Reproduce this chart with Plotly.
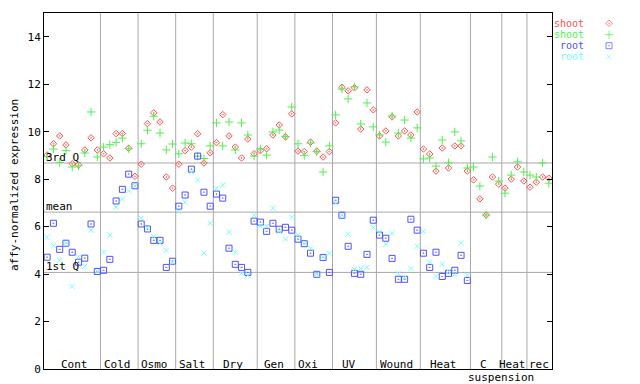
import plotly.graph_objects as go

# ---------------- data ----------------
groups = ["Cont", "Cold", "Osmo", "Salt", "Dry", "Gen", "Oxi", "UV",
          "Wound", "Heat", "C", "Heat", "rec"]
group_sizes = [9, 6, 6, 6, 7, 6, 6, 7, 7, 8, 5, 4, 4]
sub_label = "suspension"

shoot_a = [9.02, 9.49, 9.82, 9.44, 8.65, 8.60, 9.23, 9.74, 9.23,
           9.07, 8.89, 9.92, 9.92, 9.30, 8.12,
           8.63, 10.34, 10.79, 10.41, 8.09, 7.62,
           8.63, 9.20, 9.35, 9.91, 8.68, 9.11,
           9.54, 10.72, 9.82, 9.35, 8.89, 9.69, 9.07,
           9.20, 9.28, 9.86, 10.28, 9.78, 10.75,
           9.18, 9.16, 9.56, 9.18, 8.93, 9.16,
           10.37, 11.87, 11.72, 11.85, 10.11, 11.76, 10.92,
           9.82, 10.03, 10.62, 9.82, 10.03, 9.86, 10.83,
           9.27, 9.06, 8.34, 9.31, 8.47, 9.40, 9.40, 8.34,
           7.97, 7.17, 6.49, 8.09, 7.79,
           7.62, 8.00, 8.51, 7.92,
           7.66, 7.87, 8.09, 8.04]

shoot_b = [8.95, 9.27, 8.70, 9.20, 8.51, 8.56, 9.10, 10.83, 8.93,
           9.35, 9.45, 9.55, 9.73, 9.28, None,
           9.49, 10.06, 10.65, 9.94, 9.23, 9.48,
           9.07, 9.52, 9.49, 8.97, 8.87, 9.40,
           10.37, 9.40, 10.41, 9.23, 10.37, 9.86, 8.97,
           9.27, 9.01, 9.99, 10.07, 9.80, 11.04,
           9.49, 9.00, 9.52, 9.16, 8.30, 9.40,
           10.71, 11.80, 11.38, 11.89, 10.32, 11.21, 10.20,
           9.86, 9.56, 10.66, 9.94, 10.49, 9.73, 10.16,
           8.85, 8.89, 8.55, 9.65, 8.68, 9.99, 9.61, 8.47,
           8.51, 7.71, 6.49, 8.93, 7.92,
           7.41, 8.17, 8.73, 8.30,
           8.17, 8.09, 8.68, 7.83]

root_a = [4.71, 6.14, 5.04, 5.30, 4.92, 4.50, 4.67, 6.11, 4.11,
          4.16, 4.62, 7.08, 7.57, 8.21, 7.72,
          6.11, 5.90, 5.42, 5.42, 4.28, 4.54,
          6.86, 7.33, 8.42, 8.97, 7.45, 6.86,
          7.37, 7.20, 5.09, 4.41, 4.28, 4.07, 6.23,
          6.19, 5.80, 6.14, 5.89, 5.97, 5.85,
          5.47, 5.28, 4.88, 3.99, 4.70, 4.07,
          7.11, 6.48, 5.17, 4.03, 3.99, 4.83, 6.27,
          5.64, 5.51, 4.66, 3.78, 3.78, 6.31, 5.85,
          4.88, 4.28, 4.92, 3.90, 4.03, 4.16, 4.79, 3.73]

root_b = [5.55, 5.21, 4.58, 5.30, 3.48, 4.73, 4.33, 5.85, 4.11,
          4.92, 5.64, 6.82, 7.17, 7.50, 7.72,
          6.36, 5.94, 5.58, 5.30, 5.00, 4.50,
          6.63, 7.03, 8.30, 7.96, 4.88, 6.14,
          7.62, 7.75, 5.76, 4.92, 4.03, 3.95, 6.48,
          6.02, 6.02, 6.78, 5.80, 5.47, 6.40,
          5.64, 5.30, 5.09, 3.99, 4.71, 4.88,
          6.99, 6.48, 5.68, 4.20, 4.24, 4.28, 5.97,
          5.78, 5.26, 5.72, 4.03, 3.86, 4.24, 5.17,
          5.80, 4.50, 3.90, 4.41, 4.11, 3.99, 5.30, 3.95]

series_names = ["shoot", "shoot", "root", "root"]
quantile_names = ["1st Q", "mean", "3rd Q"]
quantile_values = [4.07, 6.61, 8.68]

# ---------------- style ----------------
FONT = "DejaVu Sans Mono"
colors = ["#ff5050", "#50f050", "#5050ff", "#70ffff"]
symbols = ["diamond-open-dot", "cross-thin-open", "square-open-dot", "x-thin-open"]
sizes = [5, 6, 6, 5]
label_xshift = [2, -1.6, -2, -2, -2.5, -2.5, -5.5, -5, -2, -2, -3, -2, 0]
BODY = 8          # page body margin of the html page
FIG_W, FIG_H = 640 - BODY, 384 - BODY
ML, MT, MB = 44 - BODY, 13 - BODY, FIG_H - (369 - BODY)
PAPER_W = FIG_W - ML
PLOT_W = 508      # px width of the data area
PLOT_H = 356

fig = go.Figure()

all_series = [shoot_a, shoot_b, root_a, root_b]
for vals, name, c, s, sz in zip(all_series, series_names, colors, symbols, sizes):
    xs = list(range(1, len(vals) + 1))
    fig.add_trace(go.Scatter(
        x=xs, y=vals, mode="markers", name=name,
        marker=dict(symbol=s, size=sz, color=c, line=dict(color=c, width=1)),
        showlegend=False, xaxis="x", yaxis="y"))

# custom legend (text then symbol, right of the plot) in pixel-like coords
leg_rows_px = [23.3, 34.7, 45.7, 56.7]
fig.add_trace(go.Scatter(
    x=[609] * 4, y=leg_rows_px, mode="markers",
    marker=dict(symbol=symbols, size=sizes, color=colors,
                line=dict(color=colors, width=1)),
    showlegend=False, xaxis="x2", yaxis="y2", hoverinfo="skip"))

annotations = []
for name, c, py in zip(series_names, colors, leg_rows_px):
    annotations.append(dict(
        text=name, xref="paper", yref="paper",
        x=(585 - 44) / PAPER_W, y=(369 - py) / PLOT_H,
        xanchor="right", yanchor="middle", showarrow=False, borderpad=0,
        font=dict(family=FONT, size=10, color=c)))

shapes = []
n_total = sum(group_sizes)
start = 0
for i, (g, n) in enumerate(zip(groups, group_sizes)):
    center = start + n / 2 + 0.5
    annotations.append(dict(
        text=g, xref="x", yref="paper", x=center, y=0,
        xshift=label_xshift[i], yshift=5, yanchor="middle", showarrow=False,
        font=dict(family=FONT, size=11, color="black")))
    if g == "C":
        annotations.append(dict(
            text=sub_label, xref="x", yref="paper", x=center, y=0,
            xshift=15, yshift=-8, yanchor="middle", showarrow=False,
            font=dict(family=FONT, size=11, color="black")))
    start += n
    if start < n_total:
        shapes.append(dict(type="line", xref="x", yref="y domain",
                           x0=start + 0.5, x1=start + 0.5, y0=0, y1=1,
                           line=dict(color="#a8a8a8", width=1), layer="below"))

for qn, qv in zip(quantile_names, quantile_values):
    shapes.append(dict(type="line", xref="x domain", yref="y",
                       x0=0, x1=1, y0=qv, y1=qv,
                       line=dict(color="#a8a8a8", width=1), layer="below"))
    annotations.append(dict(
        text=qn, xref="x domain", yref="y", x=0, y=qv,
        xanchor="left", yanchor="bottom", yshift=-3, showarrow=False,
        font=dict(family=FONT, size=11, color="black")))

annotations.append(dict(
    text="affy-normalized expression", textangle=-90,
    xref="paper", yref="paper", x=0, y=(369 - 185) / PLOT_H,
    xshift=-29, xanchor="center", yanchor="middle", showarrow=False,
    borderpad=0,
    font=dict(family=FONT, size=11, color="black")))

fig.update_layout(
    width=FIG_W, height=FIG_H,
    margin=dict(l=ML, r=0, t=MT, b=MB, pad=0),
    paper_bgcolor="white", plot_bgcolor="white",
    showlegend=False,
    xaxis=dict(domain=[0, PLOT_W / PAPER_W], range=[0.5, n_total + 0.5],
               showline=True, linecolor="black", linewidth=1, mirror=True,
               showticklabels=False, ticks="", showgrid=False, zeroline=False),
    yaxis=dict(range=[0, 15], tickvals=list(range(0, 15, 2)),
               ticks="inside", ticklen=5, tickcolor="black",
               showline=True, linecolor="black", linewidth=1, mirror="ticks",
               showgrid=False, zeroline=False,
               tickfont=dict(family=FONT, size=11, color="black")),
    xaxis2=dict(domain=[PLOT_W / PAPER_W, 1], range=[552, 640], visible=False,
                anchor="y2", fixedrange=True),
    yaxis2=dict(domain=[0, 1], range=[369, 13], visible=False,
                anchor="x2", fixedrange=True),
    annotations=annotations, shapes=shapes,
)

fig.write_html("out.html")
